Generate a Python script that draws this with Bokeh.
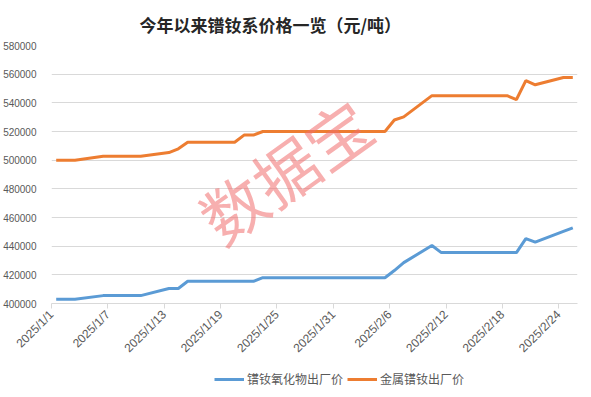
import math
import pandas as pd
from bokeh.plotting import figure
from bokeh.layouts import column
from bokeh.models import (Range1d, FixedTicker, NumeralTickFormatter, Legend,
                          LegendItem, Title, ColumnDataSource)
from bokeh.core.properties import value
from bokeh.embed import file_html
from bokeh.resources import INLINE

title_text = "今年以来镨钕系价格一览（元/吨）"
series_names = ["镨钕氧化物出厂价", "金属镨钕出厂价"]
series_colors = ["#5b9bd5", "#ed7d31"]
watermark_text = "数据宝"

dates = ["2025-01-01", "2025-01-02", "2025-01-03", "2025-01-06", "2025-01-07",
         "2025-01-08", "2025-01-09", "2025-01-10", "2025-01-13", "2025-01-14",
         "2025-01-15", "2025-01-16", "2025-01-17", "2025-01-20", "2025-01-21",
         "2025-01-22", "2025-01-23", "2025-01-24", "2025-01-27", "2025-02-05",
         "2025-02-06", "2025-02-07", "2025-02-10", "2025-02-11", "2025-02-12",
         "2025-02-13", "2025-02-14", "2025-02-17", "2025-02-18", "2025-02-19",
         "2025-02-20", "2025-02-21", "2025-02-24", "2025-02-25"]

oxide = [403000, 403000, 403000, 405500, 405500,
         405500, 405500, 405500, 410500, 410500,
         415500, 415500, 415500, 415500, 415500,
         415500, 418000, 418000, 418000, 418000,
         423000, 428500, 440500, 435500, 435500,
         435500, 435500, 435500, 435500, 435500,
         445300, 442800, 450300, 452800]

metal = [500000, 500000, 500000, 502700, 502700,
         502700, 502700, 502700, 505300, 507900,
         512500, 512500, 512500, 512500, 517500,
         517500, 520000, 520000, 520000, 520000,
         528000, 530200, 545000, 545000, 545000,
         545000, 545000, 545000, 545000, 542300,
         555500, 552600, 557700, 557700]

tick_dates = ["2025-01-01", "2025-01-07", "2025-01-13", "2025-01-19", "2025-01-25",
              "2025-01-31", "2025-02-06", "2025-02-12", "2025-02-18", "2025-02-24"]
tick_labels = ["2025/1/1", "2025/1/7", "2025/1/13", "2025/1/19", "2025/1/25",
               "2025/1/31", "2025/2/6", "2025/2/12", "2025/2/18", "2025/2/24"]

y_ticks = list(range(400000, 580001, 20000))

start = pd.Timestamp("2025-01-01")
end = pd.Timestamp("2025-02-26")


def day(d):
    return (pd.Timestamp(d) - start).days


xs = [day(d) + 0.5 for d in dates]
tick_pos = [day(d) for d in tick_dates]

src = ColumnDataSource(dict(x=xs, oxide=oxide, metal=metal))

p = figure(frame_width=526, frame_height=258, output_backend="svg",
           toolbar_location=None,
           x_range=Range1d(0, day(end)), y_range=Range1d(400000, 580000),
           min_border_left=44, min_border_right=5, min_border_top=38,
           min_border_bottom=68)
p.outline_line_color = None
p.background_fill_color = "white"
p.border_fill_color = "white"

p.title = Title(text=title_text, align="left", offset=88,
                text_font="Noto Sans CJK SC", text_font_size="17px",
                text_font_style="bold", text_color="#262626", standoff=18)

# axes
p.xaxis.ticker = FixedTicker(ticks=tick_pos)
p.xaxis.major_label_overrides = {t: l for t, l in zip(tick_pos, tick_labels)}
p.xaxis.major_label_orientation = math.pi / 4
p.xaxis.axis_line_color = "#d9d9d9"
p.xaxis.major_tick_line_color = "#d9d9d9"
p.xaxis.major_tick_in = 0
p.xaxis.major_tick_out = 5
p.xaxis.minor_tick_line_color = None
p.xaxis.major_label_text_font = "Liberation Sans"
p.xaxis.major_label_text_font_size = "12px"
p.xaxis.major_label_text_color = "#595959"
p.xaxis.major_label_standoff = 4

p.yaxis.ticker = FixedTicker(ticks=y_ticks)
p.yaxis.formatter = NumeralTickFormatter(format="0")
p.yaxis.axis_line_color = None
p.yaxis.major_tick_line_color = None
p.yaxis.minor_tick_line_color = None
p.yaxis.major_label_text_font = "Liberation Sans"
p.yaxis.major_label_text_font_size = "10px"
p.yaxis.major_label_text_color = "#595959"
p.yaxis.major_label_standoff = 9

p.xgrid.grid_line_color = None
p.ygrid.grid_line_color = "#d9d9d9"
p.ygrid.grid_line_width = 1

p.line("x", "oxide", source=src, line_color=series_colors[0], line_width=3)
p.line("x", "metal", source=src, line_color=series_colors[1], line_width=3)

# watermark
p.text(x=[24.8], y=[493500], text=[watermark_text], angle=0.62,
       text_align="center", text_baseline="middle",
       text_font=value("Noto Sans CJK SC"), text_font_size="64px",
       text_color="#f06e6e", text_alpha=0.55)

# legend strip below the chart (proxy renderers hold no visible points)
p2 = figure(width=575, height=20, output_backend="svg", toolbar_location=None,
            x_range=Range1d(0, 1), y_range=Range1d(0, 1),
            x_axis_type=None, y_axis_type=None,
            min_border_left=0, min_border_right=0, min_border_top=0,
            min_border_bottom=0)
p2.outline_line_color = None
p2.xgrid.grid_line_color = None
p2.ygrid.grid_line_color = None
nan = float("nan")
lr1 = p2.line(x=[nan], y=[nan], line_color=series_colors[0], line_width=3)
lr2 = p2.line(x=[nan], y=[nan], line_color=series_colors[1], line_width=3)

legend = Legend(items=[LegendItem(label=series_names[0], renderers=[lr1]),
                       LegendItem(label=series_names[1], renderers=[lr2])],
                orientation="horizontal", location=(163, 4),
                border_line_color=None, background_fill_alpha=0,
                glyph_width=30, glyph_height=12, label_height=12,
                label_standoff=3, spacing=4,
                label_text_font="Noto Sans CJK SC", label_text_font_size="12px",
                label_text_color="#595959", padding=0, margin=0)
p2.add_layout(legend, "center")

layout = column(p, p2, spacing=0)

open("out.html", "w").write(file_html(layout, INLINE))
